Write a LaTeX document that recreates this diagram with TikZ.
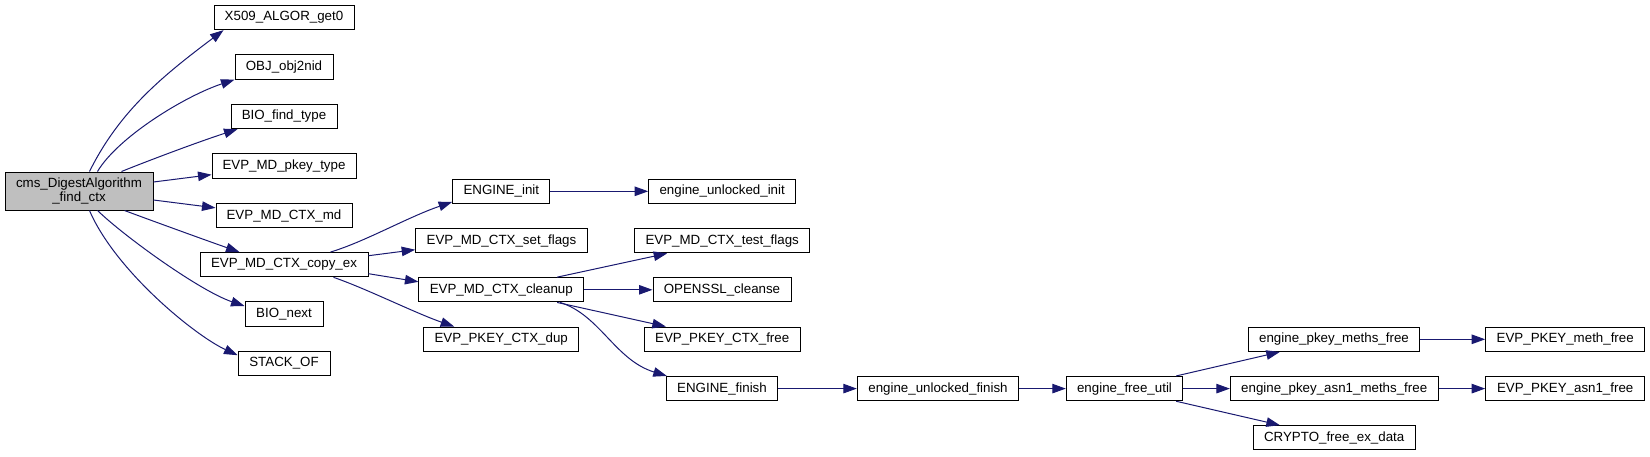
\documentclass[tikz,border=0pt]{standalone}
\usepackage{fontspec}
\setmainfont{Liberation Sans}
\usetikzlibrary{arrows.meta,calc}
\definecolor{edgeblue}{HTML}{191970}
\definecolor{rootgray}{HTML}{BFBFBF}
\begin{document}
\begin{tikzpicture}[x=1pt,y=-1pt,
  fn/.style={draw=black, line width=1pt, rectangle, inner sep=0pt, minimum height=24.3pt,
    font=\fontsize{13.33}{14}\selectfont, text=black},
  call/.style={draw=edgeblue, line width=1pt, -{Triangle[length=13.5pt,width=9.5pt]}},
]
\useasboundingbox (0,0) rectangle (1650,456);

% root
\node[fn, fill=rootgray, minimum width=148pt, minimum height=38pt, align=center] (root) at (79,191)
  {cms\_DigestAlgorithm\\\_find\_ctx};

% column 1
\node[fn, minimum width=140pt] (x509) at (284,17.5) {X509\_ALGOR\_get0};
\node[fn, minimum width=98pt] (obj) at (284,67) {OBJ\_obj2nid};
\node[fn, minimum width=106pt] (biofind) at (284,116.5) {BIO\_find\_type};
\node[fn, minimum width=144pt] (pkeytype) at (284,166) {EVP\_MD\_pkey\_type};
\node[fn, minimum width=136pt] (ctxmd) at (284,215.5) {EVP\_MD\_CTX\_md};
\node[fn, minimum width=168pt] (copyex) at (284,264.7) {EVP\_MD\_CTX\_copy\_ex};
\node[fn, minimum width=78pt] (bionext) at (284,314) {BIO\_next};
\node[fn, minimum width=92pt] (stack) at (284,363.2) {STACK\_OF};

% column 2
\node[fn, minimum width=97.3pt] (einit) at (501.3,191.3) {ENGINE\_init};
\node[fn, minimum width=171.6pt] (setflags) at (501.5,240.7) {EVP\_MD\_CTX\_set\_flags};
\node[fn, minimum width=164.7pt] (cleanup) at (501.3,289.8) {EVP\_MD\_CTX\_cleanup};
\node[fn, minimum width=155pt] (pkeydup) at (501.2,339.2) {EVP\_PKEY\_CTX\_dup};

% column 3
\node[fn, minimum width=147pt] (uinit) at (722.2,191.3) {engine\_unlocked\_init};
\node[fn, minimum width=175pt] (testflags) at (722.2,240.7) {EVP\_MD\_CTX\_test\_flags};
\node[fn, minimum width=138pt] (cleanse) at (722,289.8) {OPENSSL\_cleanse};
\node[fn, minimum width=155.7pt] (pkeyfree) at (722.2,339.2) {EVP\_PKEY\_CTX\_free};
\node[fn, minimum width=111.4pt] (efinish) at (722,388.6) {ENGINE\_finish};

% further columns
\node[fn, minimum width=161.4pt] (ufinish) at (938,388.6) {engine\_unlocked\_finish};
\node[fn, minimum width=116.4pt] (freeutil) at (1124.5,388.6) {engine\_free\_util};
\node[fn, minimum width=171.4pt] (methsfree) at (1334,339.3) {engine\_pkey\_meths\_free};
\node[fn, minimum width=207.7pt] (asn1free) at (1334.2,388.6) {engine\_pkey\_asn1\_meths\_free};
\node[fn, minimum width=161.7pt] (cryptofree) at (1334.2,437.8) {CRYPTO\_free\_ex\_data};
\node[fn, minimum width=159pt] (methfree) at (1565.2,339.3) {EVP\_PKEY\_meth\_free};
\node[fn, minimum width=159pt] (pasn1free) at (1565.2,388.6) {EVP\_PKEY\_asn1\_free};

% edges from root
\draw[call] ($(root.north west)+(85,0)$) .. controls (120,110) and (164,75) .. ($(x509.south west)+(10,0)$);
\draw[call] ($(root.north west)+(93,0)$) .. controls (118,137) and (185,96) .. (obj.south west);
\draw[call] ($(root.north west)+(117,0)$) .. controls (145,162) and (195,143) .. ($(biofind.south west)+(7,0)$);
\draw[call] ($(root.east)+(0,-9)$) -- ($(pkeytype.south west)+(0,-4)$);
\draw[call] ($(root.east)+(0,9)$) -- ($(ctxmd.north west)+(0,5)$);
\draw[call] ($(root.south west)+(120,0)$) .. controls (150,220) and (205,240) .. ($(copyex.north west)+(40,0)$);
\draw[call] ($(root.south west)+(93,0)$) .. controls (125,237) and (200,291) .. ($(bionext.west)+(0,-8)$);
\draw[call] ($(root.south west)+(85,0)$) .. controls (115,270) and (194,335) .. ($(stack.west)+(0,-8)$);

% edges from copy_ex
\draw[call] ($(copyex.north east)+(-38,0)$) .. controls (365,241.7) and (408,217) .. ($(einit.south west)+(0,-2)$);
\draw[call] ($(copyex.east)+(0,-9)$) -- ($(setflags.west)+(0,9)$);
\draw[call] ($(copyex.east)+(0,9)$) -- ($(cleanup.west)+(0,-8)$);
\draw[call] ($(copyex.south east)+(-35,0)$) .. controls (365,288) and (415,313) .. ($(pkeydup.north west)+(31,0)$);

\draw[call] (einit.east) -- (uinit.west);

% edges from cleanup
\draw[call] ($(cleanup.north east)+(-27,0)$) -- ($(testflags.south west)+(33,0)$);
\draw[call] (cleanup.east) -- (cleanse.west);
\draw[call] ($(cleanup.south east)+(-27,0)$) -- ($(pkeyfree.north west)+(22,0)$);
\draw[call] ($(cleanup.south east)+(-24,0)$) .. controls (600,315) and (615,360) .. ($(efinish.north west)+(1,0)$);

\draw[call] (efinish.east) -- (ufinish.west);
\draw[call] (ufinish.east) -- (freeutil.west);

% edges from engine_free_util
\draw[call] ($(freeutil.north east)+(-7,0)$) -- ($(methsfree.south west)+(32,0)$);
\draw[call] (freeutil.east) -- (asn1free.west);
\draw[call] ($(freeutil.south east)+(-7,0)$) -- ($(cryptofree.north west)+(27,0)$);

\draw[call] (methsfree.east) -- (methfree.west);
\draw[call] (asn1free.east) -- (pasn1free.west);
\end{tikzpicture}
\end{document}
